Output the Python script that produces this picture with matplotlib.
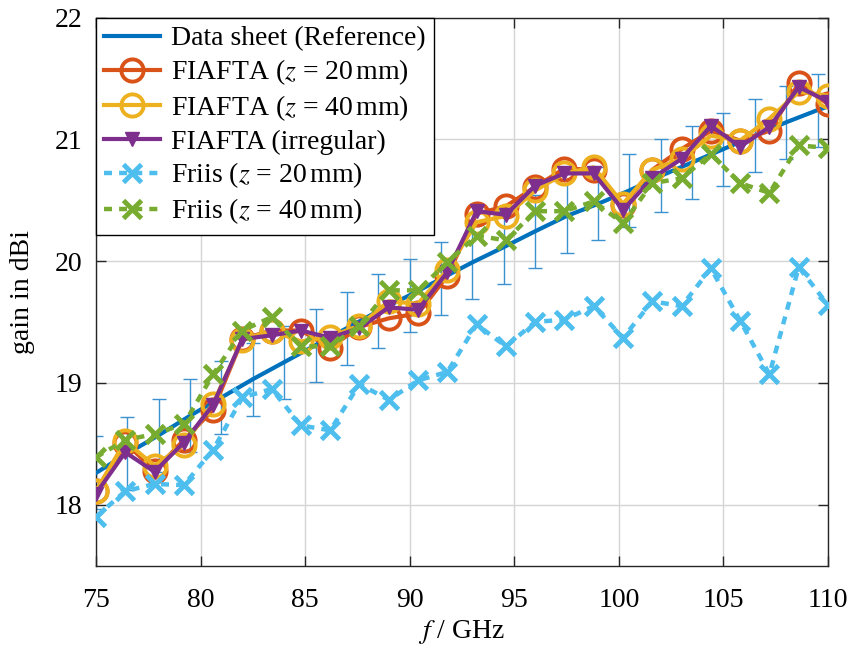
import numpy as np
import matplotlib
matplotlib.use("Agg")
import matplotlib.pyplot as plt

plt.rcParams['font.family'] = ['Liberation Serif', 'DejaVu Serif']
plt.rcParams['mathtext.fontset'] = 'stix'

# ---- data ----
f_meas = [75 + 1.4 * k for k in range(26)]

fiafta_z20 = [18.11, 18.51, 18.28, 18.53, 18.78, 19.36, 19.43, 19.43, 19.29,
              19.46, 19.53, 19.57, 19.88, 20.39, 20.45, 20.61, 20.76,
              20.75, 20.46, 20.75, 20.92, 21.07, 20.99, 21.07, 21.46, 21.29]
fiafta_z40 = [18.11, 18.52, 18.32, 18.49, 18.83, 19.35, 19.43, 19.34, 19.38,
              19.47, 19.67, 19.65, 19.93, 20.32, 20.37, 20.58, 20.72,
              20.77, 20.47, 20.75, 20.84, 21.03, 20.99, 21.17, 21.39, 21.36]
fiafta_irr = [18.09, 18.43, 18.27, 18.51, 18.82, 19.36, 19.39, 19.43, 19.37,
              19.45, 19.62, 19.60, 19.91, 20.41, 20.38, 20.62, 20.72,
              20.72, 20.42, 20.68, 20.84, 21.11, 20.94, 21.10, 21.43, 21.31]
friis_z20 = [17.90, 18.11, 18.17, 18.16, 18.45, 18.88, 18.95, 18.65, 18.61,
             18.99, 18.86, 19.02, 19.09, 19.48, 19.30, 19.50, 19.52,
             19.63, 19.37, 19.67, 19.63, 19.94, 19.51, 19.07, 19.95, 19.64]
friis_z40 = [18.39, 18.53, 18.58, 18.66, 19.07, 19.43, 19.54, 19.30, 19.30,
             19.47, 19.76, 19.76, 19.99, 20.21, 20.17, 20.41, 20.41,
             20.49, 20.31, 20.64, 20.68, 20.88, 20.64, 20.56, 20.95, 20.93]

f_sheet = [75 + 1.5 * k for k in range(24)] + [110]
gain_sheet = [18.26, 18.42, 18.57, 18.73, 18.88, 19.03, 19.17, 19.31, 19.45,
              19.59, 19.72, 19.855, 19.99, 20.115, 20.245, 20.37, 20.47,
              20.58, 20.70, 20.81, 20.92, 21.03, 21.14, 21.24, 21.27]
sheet_err = [0.3] * 24

xticks = [75, 80, 85, 90, 95, 100, 105, 110]
yticks = [18, 19, 20, 21, 22]

# ---- colours ----
c_blue = '#0072BD'
c_red = '#D95319'
c_yel = '#EDB120'
c_pur = '#7E2F8E'
c_lblue = '#4DBEEE'
c_green = '#77AC30'

fig = plt.figure(figsize=(8.53, 6.46), dpi=100)
ax = fig.add_axes([0.1125, 0.1246, 0.8582, 0.8482])

ax.plot(f_sheet, gain_sheet, color=c_blue, lw=3.0, label='Data sheet (Reference)', zorder=3)
ax.errorbar(f_sheet[:24], gain_sheet[:24], yerr=sheet_err, fmt='none',
            ecolor='#3a93d0', elinewidth=1.0, capsize=5, capthick=1.0, zorder=2.5)

ax.plot(f_meas, fiafta_z20, color=c_red, lw=3.0, marker='o', ms=16,
        mfc='none', mew=2.8, label=r'FIAFTA ($z$ = 20$\,$mm)', zorder=4)
ax.plot(f_meas, fiafta_z40, color=c_yel, lw=3.0, marker='o', ms=16,
        mfc='none', mew=2.8, label=r'FIAFTA ($z$ = 40$\,$mm)', zorder=5)
ax.plot(f_meas, fiafta_irr, color=c_pur, lw=3.0, marker='v', ms=9.5,
        label='FIAFTA (irregular)', zorder=6)
ax.plot(f_meas, friis_z20, color=c_lblue, lw=3.2, ls=(0, (1.8, 1.6)), marker='x', ms=13,
        mew=3.5, label=r'Friis ($z$ = 20$\,$mm)', zorder=7)
ax.plot(f_meas, friis_z40, color=c_green, lw=3.2, ls=(0, (1.8, 1.6)), marker='x', ms=13,
        mew=3.5, label=r'Friis ($z$ = 40$\,$mm)', zorder=8)

ax.set_xlim(75, 110)
ax.set_ylim(17.5, 22)
ax.set_xticks(xticks)
ax.set_yticks(yticks)
ax.grid(True, color='#d4d4d4', lw=1.0)
ax.set_axisbelow(True)
ax.tick_params(direction='in', length=7, width=1, top=True, right=True,
               labelsize=20, colors='#262626', labelcolor='black')
ax.tick_params(axis='x', pad=16)
ax.tick_params(axis='y', pad=10)
for s in ax.spines.values():
    s.set_color('#262626')
    s.set_linewidth(1.0)

ax.set_xlabel(r'$f$ / GHz', fontsize=20, labelpad=4)
ax.set_ylabel('gain in dBi', fontsize=20, labelpad=14)

leg = ax.legend(loc='upper left', fontsize=20, frameon=True, fancybox=False,
                edgecolor='black', framealpha=1, handlelength=2.0,
                borderaxespad=0.0, labelspacing=0.22, handletextpad=0.4,
                borderpad=0.3)
leg.get_frame().set_linewidth(1.0)

fig.savefig('out.png', dpi=100)
